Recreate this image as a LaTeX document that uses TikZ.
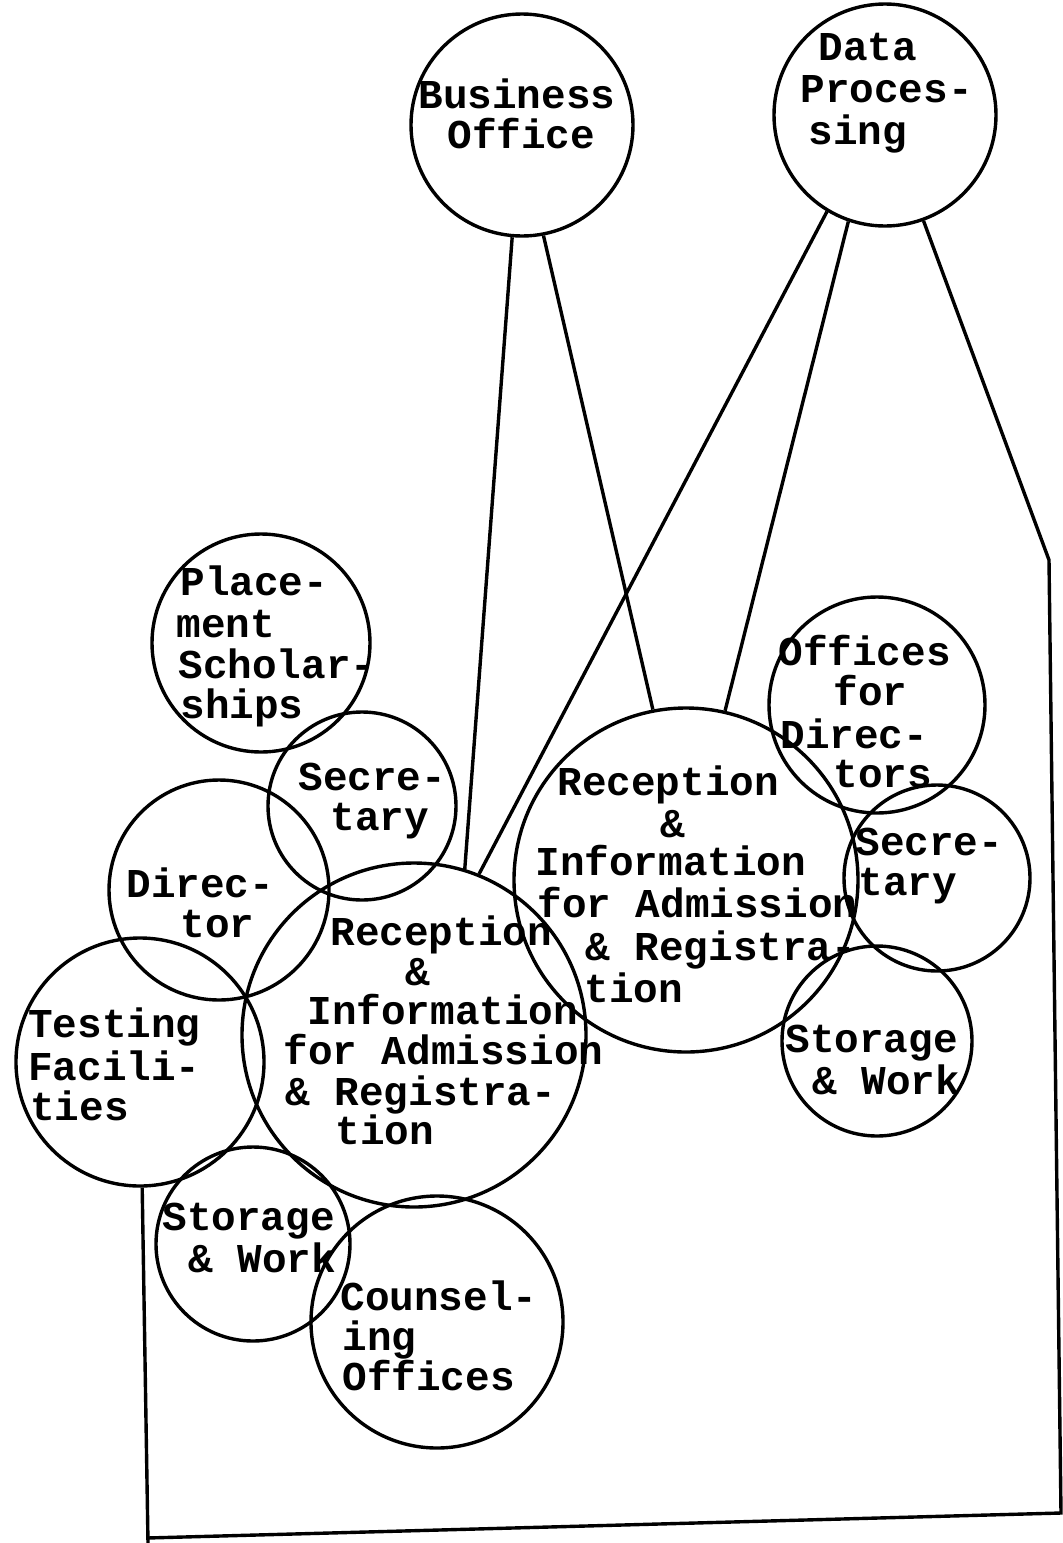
\documentclass[tikz,border=0pt]{standalone}
\usepackage{fontspec}
\newfontfamily\typew{Liberation Mono}
\begin{document}
\begin{tikzpicture}[x=0.5pt,y=-0.5pt,
  room/.style={circle,draw,line width=1.7pt,inner sep=0pt},
  link/.style={line width=1.7pt},
  txt/.style={anchor=base west,inner sep=0pt,font=\typew\bfseries\fontsize{20.5}{24}\selectfont}]
\useasboundingbox (0,0) rectangle (1063,1543);
% rooms (minimum size in pt = radius in px)
\node[room,minimum size=111pt] (bo) at (522,125) {};
\node[room,minimum size=111pt] (dp) at (885,115) {};
\node[room,minimum size=109pt] (ps) at (261,643) {};
\node[room,minimum size=94pt]  (sl) at (362,806) {};
\node[room,minimum size=110pt] (di) at (219,890) {};
\node[room,minimum size=172pt] (rl) at (414,1035) {};
\node[room,minimum size=124pt] (tf) at (140,1062) {};
\node[room,minimum size=97pt]  (wl) at (253,1244) {};
\node[room,minimum size=126pt] (co) at (437,1322) {};
\node[room,minimum size=172pt] (rr) at (686,880) {};
\node[room,minimum size=108pt] (od) at (877,705) {};
\node[room,minimum size=93pt]  (sr) at (937,878) {};
\node[room,minimum size=95pt]  (wr) at (877,1041) {};
% texts
\foreach \x/\y/\t [count=\i] in {
  418/108/Business, 447/148/Office,
  818/60/Data, 800/102/Proces-, 808/144/sing,
  180/595/Place-, 176/637/ment, 178/678/Scholar-, 180/718/ships,
  298/790/Secre-, 330/830/tary,
  126/897/Direc-, 180/937/tor,
  330/945/Reception, 405/985/\&, 307/1024/Information, 283/1064/for Admission, 285/1105/\& Registra-, 335/1144/tion,
  557/795/Reception, 660/837/\&, 535/875/Information, 537/917/for Admission, 585/960/\& Registra-, 584/1002/tion,
  778/665/Offices, 833/705/for, 780/748/Direc-, 833/787/tors,
  855/855/Secre-, 858/895/tary,
  785/1052/Storage, 812/1094/\& Work,
  28/1037/Testing, 28/1080/Facili-, 30/1120/ties,
  162/1230/Storage, 188/1272/\& Work,
  340/1310/Counsel-, 342/1350/ing, 342/1390/Offices}
  \node[txt] (t\i) at (\x,\y) {\t};
% connectors
\coordinate (c1) at (1049,560);
\coordinate (c2) at (1061,1513);
\coordinate (c3) at (147,1538);
\coordinate (c4) at (148,1543);
\draw[link] (bo.-95) -- (rl.73);
\draw[link] (bo.-79) -- (rr.101);
\draw[link] (dp.-121) -- (rl.68);
\draw[link] (dp.-109) -- (rr.77);
\draw[link] (dp.-70) -- (c1) -- (c2) -- (c3);
\draw[link] (tf.-89) -- (c4);
\end{tikzpicture}
\end{document}
